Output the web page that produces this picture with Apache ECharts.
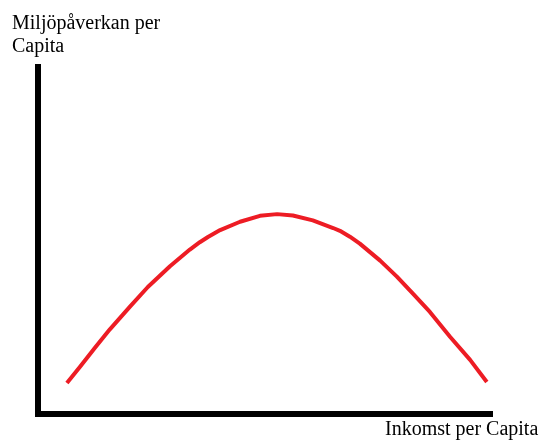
<!DOCTYPE html>
<html>
<head>
<meta charset="utf-8">
<script src="https://cdn.jsdelivr.net/npm/echarts@6/dist/echarts.min.js"></script>
<style>
  html, body { margin: 0; padding: 0; background: #fff; }
  #chart { width: 540px; height: 441px; }
</style>
</head>
<body>
<div id="chart"></div>
<script>
// axeltitlar
var yTitle = 'Miljöpåverkan per\nCapita';
var xTitle = 'Inkomst per Capita';

// kurvan (inkomst, miljöpåverkan)
var incomeValues = [6.4, 9.3, 12.6, 15.9, 20.4, 24.3, 29.2, 33.6, 35.8, 37.6, 40.3, 44.7, 49.1, 52.9,
                    56.4, 60.8, 65.3, 66.8, 69.0, 71.2, 75.7, 79.4, 83.0, 86.7, 91.2, 95.6, 99.3];
var impactValues = [8.9, 13.6, 19.1, 24.4, 31.0, 36.6, 42.6, 47.4, 49.5, 51.0, 53.0, 55.4, 57.1, 57.6,
                    57.2, 55.8, 53.6, 52.8, 51.1, 49.1, 44.2, 39.6, 34.6, 29.4, 22.2, 15.6, 9.2];

var curve = [];
for (var i = 0; i < incomeValues.length; i++) curve.push([incomeValues[i], impactValues[i]]);

var chart = echarts.init(document.getElementById('chart'));

// gemensam axelstil
var axisBase = {
    type: 'value',
    min: 0,
    max: 100,
    axisLine: { show: true, lineStyle: { color: '#000', width: 6, cap: 'square' } },
    axisTick: { show: false },
    axisLabel: { show: false },
    splitLine: { show: false }
};

chart.setOption({
    animation: false,
    backgroundColor: '#fff',
    grid: { left: 38, right: 50, top: 67, bottom: 27 },
    xAxis: axisBase,
    yAxis: axisBase,
    graphic: [
        {
            type: 'text', left: 12, top: 12,
            style: { text: yTitle, fill: '#000', font: '20px "Liberation Serif"', lineHeight: 23 }
        },
        {
            type: 'text', left: 385, top: 420,
            style: { text: xTitle, fill: '#000', font: '20px "Liberation Serif"' }
        }
    ],
    series: [{
        type: 'line',
        data: curve,
        smooth: false,
        symbol: 'none',
        lineStyle: { color: '#ed1c24', width: 4, join: 'round' }
    }]
});
</script>
</body>
</html>
